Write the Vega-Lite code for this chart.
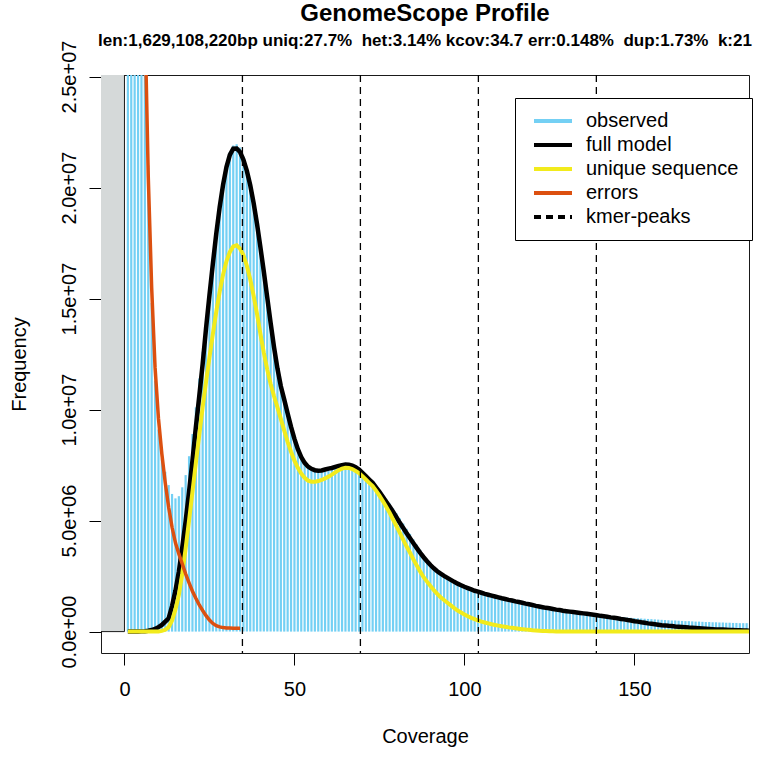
{
"$schema": "https://vega.github.io/schema/vega-lite/v6.json",
"width": 648, "height": 578,
"autosize": {"type": "none"},
"padding": {"left": 101, "top": 75, "right": 13, "bottom": 123},
"background": "white",
"config": {
  "font": "Liberation Sans",
  "view": {"stroke": "#1a1a1a", "strokeWidth": 1},
  "axis": {"grid": false, "domain": false, "tickColor": "black", "tickSize": 12, "tickWidth": 1, "labelColor": "black", "labelFontSize": 20, "titleFontSize": 20, "titleFontWeight": "normal", "titleColor": "black", "labelFont": "Liberation Sans", "titleFont": "Liberation Sans", "labelOverlap": false, "labelFlush": false}
},
"title": {"text": "GenomeScope Profile", "subtitle": "len:1,629,108,220bp uniq:27.7%\u00a0 het:3.14% kcov:34.7 err:0.148%\u00a0 dup:1.73%\u00a0 k:21", "fontSize": 24, "subtitleFontSize": 17, "fontWeight": "bold", "subtitleFontWeight": "bold", "font": "Liberation Sans", "subtitleFont": "Liberation Sans", "color": "black", "subtitleColor": "black", "anchor": "middle", "frame": "group", "offset": -9, "subtitlePadding": 7},
"datasets": {
"k": [
{"cov":1,"obs":680e6,"full":0,"uniq":0,"err":700e6},
{"cov":2,"obs":210e6,"full":0,"uniq":0,"err":220e6},
{"cov":3,"obs":98e6,"full":0,"uniq":0,"err":100e6},
{"cov":4,"obs":58e6,"full":0.005e6,"uniq":0,"err":58e6},
{"cov":5,"obs":39e6,"full":0.01e6,"uniq":0,"err":38e6},
{"cov":6,"obs":28.5e6,"full":0.02e6,"uniq":0,"err":27.8e6},
{"cov":7,"obs":21e6,"full":0.04e6,"uniq":0,"err":20.5e6},
{"cov":8,"obs":14.8e6,"full":0.07e6,"uniq":0,"err":15.5e6},
{"cov":9,"obs":11.3e6,"full":0.12e6,"uniq":0,"err":11.9e6},
{"cov":10,"obs":9.1e6,"full":0.2e6,"uniq":0,"err":9.6e6},
{"cov":11,"obs":7.8e6,"full":0.3e6,"uniq":0.03e6,"err":8.0e6},
{"cov":12,"obs":7.2e6,"full":0.45e6,"uniq":0.08e6,"err":6.7e6},
{"cov":13,"obs":6.6e6,"full":0.6e6,"uniq":0.2e6,"err":5.6e6},
{"cov":14,"obs":6.2e6,"full":1.15e6,"uniq":0.5e6,"err":4.7e6},
{"cov":15,"obs":6.0e6,"full":1.85e6,"uniq":1.0e6,"err":4.0e6},
{"cov":16,"obs":6.1e6,"full":2.7e6,"uniq":1.65e6,"err":3.5e6},
{"cov":17,"obs":6.5e6,"full":3.78e6,"uniq":2.6e6,"err":3.05e6},
{"cov":18,"obs":7.05e6,"full":4.98e6,"uniq":3.75e6,"err":2.6e6},
{"cov":19,"obs":7.9e6,"full":6.3e6,"uniq":5.0e6,"err":2.2e6},
{"cov":20,"obs":8.9e6,"full":7.7e6,"uniq":6.3e6,"err":1.82e6},
{"cov":21,"obs":10.1e6,"full":9.2e6,"uniq":7.6e6,"err":1.5e6},
{"cov":22,"obs":11.4e6,"full":10.6e6,"uniq":8.85e6,"err":1.2e6},
{"cov":23,"obs":12.6e6,"full":12.05e6,"uniq":10.1e6,"err":0.95e6},
{"cov":24,"obs":14.0e6,"full":13.66e6,"uniq":11.25e6,"err":0.72e6},
{"cov":25,"obs":15.4e6,"full":15.15e6,"uniq":12.35e6,"err":0.52e6},
{"cov":26,"obs":16.8e6,"full":16.57e6,"uniq":13.4e6,"err":0.37e6},
{"cov":27,"obs":18.1e6,"full":17.92e6,"uniq":14.4e6,"err":0.27e6},
{"cov":28,"obs":19.3e6,"full":19.11e6,"uniq":15.3e6,"err":0.21e6},
{"cov":29,"obs":20.3e6,"full":20.12e6,"uniq":16.08e6,"err":0.18e6},
{"cov":30,"obs":21.1e6,"full":20.92e6,"uniq":16.68e6,"err":0.165e6},
{"cov":31,"obs":21.6e6,"full":21.47e6,"uniq":17.1e6,"err":0.16e6},
{"cov":32,"obs":21.9e6,"full":21.75e6,"uniq":17.35e6,"err":0.155e6},
{"cov":33,"obs":21.95e6,"full":21.76e6,"uniq":17.4e6,"err":0.15e6},
{"cov":34,"obs":21.8e6,"full":21.6e6,"uniq":17.25e6,"err":0.15e6},
{"cov":35,"obs":21.4e6,"full":21.25e6,"uniq":16.95e6},
{"cov":36,"obs":20.85e6,"full":20.75e6,"uniq":16.48e6},
{"cov":37,"obs":20.15e6,"full":20.1e6,"uniq":15.86e6},
{"cov":38,"obs":19.3e6,"full":19.3e6,"uniq":15.12e6},
{"cov":39,"obs":18.3e6,"full":18.35e6,"uniq":14.3e6},
{"cov":40,"obs":17.25e6,"full":17.3e6,"uniq":13.4e6},
{"cov":41,"obs":16.1e6,"full":16.2e6,"uniq":12.55e6},
{"cov":42,"obs":14.95e6,"full":15.05e6,"uniq":11.8e6},
{"cov":43,"obs":13.8e6,"full":13.9e6,"uniq":11.15e6},
{"cov":44,"obs":12.75e6,"full":12.8e6,"uniq":10.6e6},
{"cov":45,"obs":11.8e6,"full":11.85e6,"uniq":10.1e6},
{"cov":46,"obs":11.0e6,"full":11.05e6,"uniq":9.58e6},
{"cov":47,"obs":10.4e6,"full":10.45e6,"uniq":9.05e6},
{"cov":48,"obs":9.75e6,"full":9.82e6,"uniq":8.55e6},
{"cov":49,"obs":9.15e6,"full":9.22e6,"uniq":8.1e6},
{"cov":50,"obs":8.6e6,"full":8.68e6,"uniq":7.7e6},
{"cov":51,"obs":8.15e6,"full":8.22e6,"uniq":7.38e6},
{"cov":52,"obs":7.8e6,"full":7.86e6,"uniq":7.12e6},
{"cov":53,"obs":7.52e6,"full":7.6e6,"uniq":6.93e6},
{"cov":54,"obs":7.35e6,"full":7.43e6,"uniq":6.8e6},
{"cov":55,"obs":7.25e6,"full":7.33e6,"uniq":6.75e6},
{"cov":56,"obs":7.2e6,"full":7.27e6,"uniq":6.75e6},
{"cov":57,"obs":7.17e6,"full":7.25e6,"uniq":6.78e6},
{"cov":58,"obs":7.18e6,"full":7.26e6,"uniq":6.83e6},
{"cov":59,"obs":7.22e6,"full":7.3e6,"uniq":6.9e6},
{"cov":60,"obs":7.27e6,"full":7.34e6,"uniq":6.98e6},
{"cov":61,"obs":7.32e6,"full":7.37e6,"uniq":7.07e6},
{"cov":62,"obs":7.37e6,"full":7.42e6,"uniq":7.17e6},
{"cov":63,"obs":7.41e6,"full":7.46e6,"uniq":7.27e6},
{"cov":64,"obs":7.44e6,"full":7.5e6,"uniq":7.34e6},
{"cov":65,"obs":7.47e6,"full":7.53e6,"uniq":7.38e6},
{"cov":66,"obs":7.46e6,"full":7.52e6,"uniq":7.37e6},
{"cov":67,"obs":7.42e6,"full":7.48e6,"uniq":7.32e6},
{"cov":68,"obs":7.35e6,"full":7.4e6,"uniq":7.24e6},
{"cov":69,"obs":7.26e6,"full":7.3e6,"uniq":7.14e6},
{"cov":70,"obs":7.14e6,"full":7.15e6,"uniq":7.0e6},
{"cov":71,"obs":7.0e6,"full":7.0e6,"uniq":6.85e6},
{"cov":72,"obs":6.87e6,"full":6.85e6,"uniq":6.7e6},
{"cov":73,"obs":6.72e6,"full":6.7e6,"uniq":6.55e6},
{"cov":74,"obs":6.55e6,"full":6.5e6,"uniq":6.35e6},
{"cov":75,"obs":6.37e6,"full":6.3e6,"uniq":6.12e6},
{"cov":76,"obs":6.18e6,"full":6.07e6,"uniq":5.88e6},
{"cov":77,"obs":5.98e6,"full":5.85e6,"uniq":5.62e6},
{"cov":78,"obs":5.77e6,"full":5.63e6,"uniq":5.35e6},
{"cov":79,"obs":5.55e6,"full":5.4e6,"uniq":5.05e6},
{"cov":80,"obs":5.33e6,"full":5.15e6,"uniq":4.75e6},
{"cov":81,"obs":5.1e6,"full":4.9e6,"uniq":4.45e6},
{"cov":82,"obs":4.87e6,"full":4.67e6,"uniq":4.13e6},
{"cov":83,"obs":4.63e6,"full":4.43e6,"uniq":3.83e6},
{"cov":84,"obs":4.4e6,"full":4.2e6,"uniq":3.55e6},
{"cov":85,"obs":4.15e6,"full":3.98e6,"uniq":3.25e6},
{"cov":86,"obs":3.92e6,"full":3.76e6,"uniq":2.97e6},
{"cov":87,"obs":3.68e6,"full":3.55e6,"uniq":2.7e6},
{"cov":88,"obs":3.45e6,"full":3.35e6,"uniq":2.45e6},
{"cov":89,"obs":3.23e6,"full":3.17e6,"uniq":2.25e6},
{"cov":90,"obs":3.04e6,"full":3.0e6,"uniq":2.05e6},
{"cov":91,"obs":2.87e6,"full":2.85e6,"uniq":1.87e6},
{"cov":92,"obs":2.72e6,"full":2.72e6,"uniq":1.7e6},
{"cov":93,"obs":2.59e6,"full":2.61e6,"uniq":1.55e6},
{"cov":94,"obs":2.48e6,"full":2.51e6,"uniq":1.42e6},
{"cov":95,"obs":2.38e6,"full":2.42e6,"uniq":1.3e6},
{"cov":96,"obs":2.28e6,"full":2.33e6,"uniq":1.18e6},
{"cov":97,"obs":2.19e6,"full":2.24e6,"uniq":1.06e6},
{"cov":98,"obs":2.11e6,"full":2.16e6,"uniq":0.95e6},
{"cov":99,"obs":2.03e6,"full":2.09e6,"uniq":0.86e6},
{"cov":100,"obs":1.96e6,"full":2.02e6,"uniq":0.77e6},
{"cov":101,"obs":1.9e6,"full":1.96e6,"uniq":0.69e6},
{"cov":102,"obs":1.84e6,"full":1.9e6,"uniq":0.62e6},
{"cov":103,"obs":1.78e6,"full":1.84e6,"uniq":0.56e6},
{"cov":104,"obs":1.73e6,"full":1.8e6,"uniq":0.5e6},
{"cov":105,"obs":1.69e6,"full":1.75e6,"uniq":0.45e6},
{"cov":106,"obs":1.64e6,"full":1.7e6,"uniq":0.41e6},
{"cov":107,"obs":1.6e6,"full":1.66e6,"uniq":0.37e6},
{"cov":108,"obs":1.56e6,"full":1.62e6,"uniq":0.33e6},
{"cov":109,"obs":1.52e6,"full":1.58e6,"uniq":0.3e6},
{"cov":110,"obs":1.48e6,"full":1.54e6,"uniq":0.27e6},
{"cov":111,"obs":1.45e6,"full":1.5e6,"uniq":0.24e6},
{"cov":112,"obs":1.41e6,"full":1.47e6,"uniq":0.22e6},
{"cov":113,"obs":1.38e6,"full":1.43e6,"uniq":0.19e6},
{"cov":114,"obs":1.35e6,"full":1.4e6,"uniq":0.17e6},
{"cov":115,"obs":1.32e6,"full":1.36e6,"uniq":0.15e6},
{"cov":116,"obs":1.29e6,"full":1.33e6,"uniq":0.13e6},
{"cov":117,"obs":1.26e6,"full":1.3e6,"uniq":0.11e6},
{"cov":118,"obs":1.23e6,"full":1.26e6,"uniq":0.09e6},
{"cov":119,"obs":1.2e6,"full":1.23e6,"uniq":0.08e6},
{"cov":120,"obs":1.17e6,"full":1.2e6,"uniq":0.06e6},
{"cov":121,"obs":1.14e6,"full":1.16e6,"uniq":0.05e6},
{"cov":122,"obs":1.11e6,"full":1.13e6,"uniq":0.04e6},
{"cov":123,"obs":1.08e6,"full":1.1e6,"uniq":0.03e6},
{"cov":124,"obs":1.06e6,"full":1.07e6,"uniq":0.03e6},
{"cov":125,"obs":1.03e6,"full":1.05e6,"uniq":0.02e6},
{"cov":126,"obs":1.01e6,"full":1.02e6,"uniq":0.02e6},
{"cov":127,"obs":0.99e6,"full":0.99e6,"uniq":0.01e6},
{"cov":128,"obs":0.97e6,"full":0.97e6,"uniq":0.01e6},
{"cov":129,"obs":0.95e6,"full":0.94e6,"uniq":0.01e6},
{"cov":130,"obs":0.93e6,"full":0.92e6,"uniq":0.01e6},
{"cov":131,"obs":0.91e6,"full":0.9e6,"uniq":0},
{"cov":132,"obs":0.89e6,"full":0.88e6,"uniq":0},
{"cov":133,"obs":0.87e6,"full":0.86e6,"uniq":0},
{"cov":134,"obs":0.85e6,"full":0.84e6,"uniq":0},
{"cov":135,"obs":0.83e6,"full":0.82e6,"uniq":0},
{"cov":136,"obs":0.81e6,"full":0.8e6,"uniq":0},
{"cov":137,"obs":0.79e6,"full":0.78e6,"uniq":0},
{"cov":138,"obs":0.77e6,"full":0.76e6,"uniq":0},
{"cov":139,"obs":0.75e6,"full":0.74e6,"uniq":0},
{"cov":140,"obs":0.74e6,"full":0.71e6,"uniq":0},
{"cov":141,"obs":0.72e6,"full":0.69e6,"uniq":0},
{"cov":142,"obs":0.71e6,"full":0.67e6,"uniq":0},
{"cov":143,"obs":0.7e6,"full":0.64e6,"uniq":0},
{"cov":144,"obs":0.68e6,"full":0.62e6,"uniq":0},
{"cov":145,"obs":0.67e6,"full":0.6e6,"uniq":0},
{"cov":146,"obs":0.66e6,"full":0.57e6,"uniq":0},
{"cov":147,"obs":0.65e6,"full":0.55e6,"uniq":0},
{"cov":148,"obs":0.63e6,"full":0.52e6,"uniq":0},
{"cov":149,"obs":0.62e6,"full":0.5e6,"uniq":0},
{"cov":150,"obs":0.61e6,"full":0.47e6,"uniq":0},
{"cov":151,"obs":0.6e6,"full":0.45e6,"uniq":0},
{"cov":152,"obs":0.59e6,"full":0.42e6,"uniq":0},
{"cov":153,"obs":0.58e6,"full":0.4e6,"uniq":0},
{"cov":154,"obs":0.57e6,"full":0.37e6,"uniq":0},
{"cov":155,"obs":0.56e6,"full":0.35e6,"uniq":0},
{"cov":156,"obs":0.55e6,"full":0.33e6,"uniq":0},
{"cov":157,"obs":0.54e6,"full":0.31e6,"uniq":0},
{"cov":158,"obs":0.53e6,"full":0.29e6,"uniq":0},
{"cov":159,"obs":0.52e6,"full":0.28e6,"uniq":0},
{"cov":160,"obs":0.51e6,"full":0.26e6,"uniq":0},
{"cov":161,"obs":0.5e6,"full":0.25e6,"uniq":0},
{"cov":162,"obs":0.5e6,"full":0.23e6,"uniq":0},
{"cov":163,"obs":0.49e6,"full":0.22e6,"uniq":0},
{"cov":164,"obs":0.48e6,"full":0.21e6,"uniq":0},
{"cov":165,"obs":0.47e6,"full":0.2e6,"uniq":0},
{"cov":166,"obs":0.47e6,"full":0.18e6,"uniq":0},
{"cov":167,"obs":0.46e6,"full":0.17e6,"uniq":0},
{"cov":168,"obs":0.45e6,"full":0.16e6,"uniq":0},
{"cov":169,"obs":0.45e6,"full":0.15e6,"uniq":0},
{"cov":170,"obs":0.44e6,"full":0.14e6,"uniq":0},
{"cov":171,"obs":0.43e6,"full":0.13e6,"uniq":0},
{"cov":172,"obs":0.43e6,"full":0.12e6,"uniq":0},
{"cov":173,"obs":0.42e6,"full":0.11e6,"uniq":0},
{"cov":174,"obs":0.42e6,"full":0.1e6,"uniq":0},
{"cov":175,"obs":0.41e6,"full":0.1e6,"uniq":0},
{"cov":176,"obs":0.41e6,"full":0.09e6,"uniq":0},
{"cov":177,"obs":0.4e6,"full":0.08e6,"uniq":0},
{"cov":178,"obs":0.4e6,"full":0.07e6,"uniq":0},
{"cov":179,"obs":0.39e6,"full":0.07e6,"uniq":0},
{"cov":180,"obs":0.39e6,"full":0.06e6,"uniq":0},
{"cov":181,"obs":0.38e6,"full":0.06e6,"uniq":0},
{"cov":182,"obs":0.38e6,"full":0.05e6,"uniq":0},
{"cov":183,"obs":0.38e6,"full":0.05e6,"uniq":0},
{"cov":184,"obs":0.37e6,"full":0.04e6,"uniq":0}
],
"peaks": [{"cov":34.7},{"cov":69.4},{"cov":104.1},{"cov":138.8}],
"bg": [{"from":-20,"to":0,"low":0,"high":3e7}]
},
"layer": [
{
  "data": {"name": "bg"},
  "mark": {"type": "rect", "fill": "#D5D9D9", "stroke": "#1a1a1a", "strokeWidth": 1, "clip": true},
  "encoding": {
    "x": {"field": "from", "type": "quantitative",
          "scale": {"domain": [-6.9, 183.7], "nice": false, "zero": false},
          "axis": {"values": [0, 50, 100, 150], "title": "Coverage", "labelPadding": 14, "titleY": 83, "titleBaseline": "middle"}},
    "x2": {"field": "to"},
    "y": {"field": "low", "type": "quantitative",
          "scale": {"domain": [-0.964e6, 2.507e7], "nice": false, "zero": false},
          "axis": {"values": [0, 5e6, 1e7, 1.5e7, 2e7, 2.5e7], "title": "Frequency", "labelAngle": 270, "labelAlign": "center", "labelBaseline": "bottom", "labelPadding": 10, "titleX": -82, "titleBaseline": "middle", "titleAngle": 270,
                   "labelExpr": "datum.value == 0 ? '0.0e+00' : (datum.value < 1e7 ? format(datum.value/1e6, '.1f') + 'e+06' : format(datum.value/1e7, '.1f') + 'e+07')"}},
    "y2": {"field": "high"}
  }
},
{
  "data": {"name": "k"},
  "mark": {"type": "rule", "strokeWidth": 2.2, "clip": true},
  "encoding": {
    "x": {"field": "cov", "type": "quantitative"},
    "y": {"field": "obs", "type": "quantitative"},
    "y2": {"datum": 0},
    "color": {"datum": "observed", "type": "nominal",
      "scale": {"domain": ["observed", "full model", "unique sequence", "errors", "kmer-peaks"], "range": ["#74D0F4", "#000000", "#F2EB1C", "#DC5010", "#000000"]},
      "legend": {"orient": "none", "legendX": 414, "legendY": 23, "title": null, "symbolType": "stroke", "symbolSize": 1444, "symbolStrokeWidth": 4, "symbolOffset": 4, "clipHeight": 20, "labelFontSize": 20, "labelFont": "Liberation Sans", "labelColor": "black", "labelOffset": 12, "rowPadding": 4, "padding": 13, "fillColor": "white", "strokeColor": "black", "cornerRadius": 0, "labelLimit": 400,
        "encode": {"symbols": {"update": {"strokeDash": {"signal": "datum.value === 'kmer-peaks' ? [7,5] : [1,0]"}}}}}}
  }
},
{
  "data": {"name": "k"},
  "mark": {"type": "line", "strokeWidth": 4.5, "clip": true},
  "encoding": {
    "x": {"field": "cov", "type": "quantitative"},
    "y": {"field": "full", "type": "quantitative"},
    "color": {"datum": "full model", "type": "nominal"}
  }
},
{
  "data": {"name": "k"},
  "mark": {"type": "line", "strokeWidth": 4, "clip": true},
  "encoding": {
    "x": {"field": "cov", "type": "quantitative"},
    "y": {"field": "uniq", "type": "quantitative"},
    "color": {"datum": "unique sequence", "type": "nominal"}
  }
},
{
  "data": {"name": "k"},
  "mark": {"type": "line", "strokeWidth": 3.5, "clip": true},
  "encoding": {
    "x": {"field": "cov", "type": "quantitative"},
    "y": {"field": "err", "type": "quantitative"},
    "color": {"datum": "errors", "type": "nominal"}
  }
},
{
  "data": {"name": "peaks"},
  "mark": {"type": "rule", "strokeWidth": 1.3, "strokeDash": [7, 5], "clip": true},
  "encoding": {
    "x": {"field": "cov", "type": "quantitative"},
    "color": {"datum": "kmer-peaks", "type": "nominal"}
  }
}
]
}
